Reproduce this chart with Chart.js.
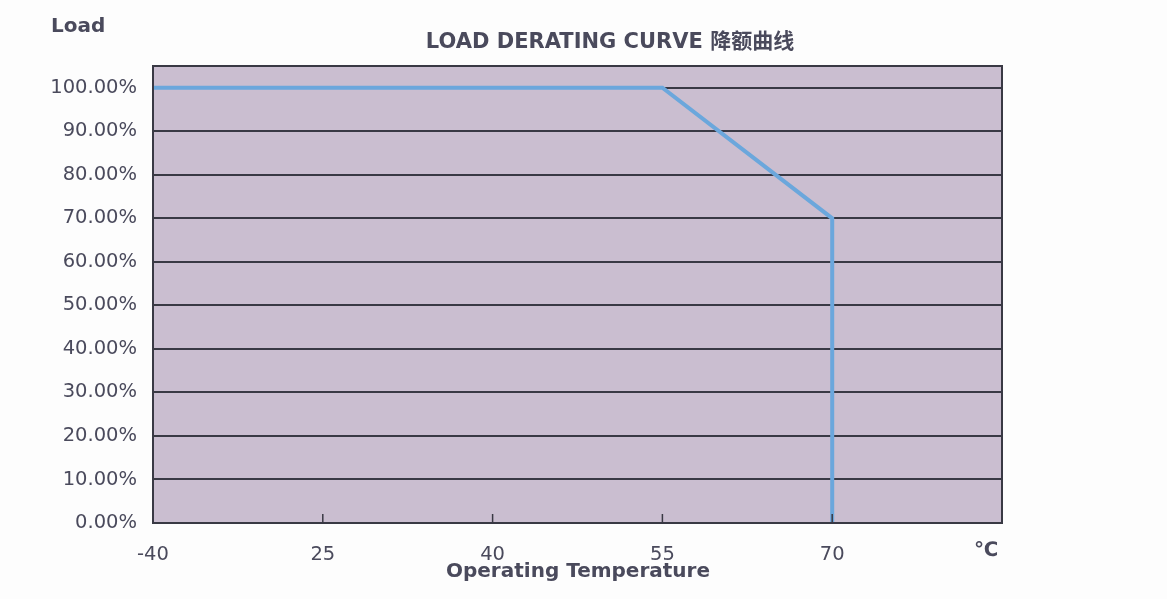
<!DOCTYPE html>
<html>
<head>
<meta charset="utf-8">
<script src="https://cdn.jsdelivr.net/npm/chart.js@4.4.1/dist/chart.umd.min.js"></script>
<style>
  html, body { margin: 0; padding: 0; background: #fdfdfd; }
  #wrap { width: 1167px; height: 599px; }
</style>
</head>
<body>
<div id="wrap"><canvas id="myChart" width="1167" height="599"></canvas></div>
<script>
'use strict'
// categories on the x axis (not linear, evenly spaced like the original)
let tempLabels = ['-40', '25', '40', '55', '70', ''];
let unitLabel = '℃';
// derating curve: temperature label -> load %
let curveTemps = ['-40', '55', '70', '70'];
let curveLoads = [100, 100, 70, 0];
let loadTicks = [0, 10, 20, 30, 40, 50, 60, 70, 80, 90, 100];

let chartTitle = 'LOAD DERATING CURVE 降额曲线';
let yTitle = 'Load';
let xTitle = 'Operating Temperature';

let textColor = '#4a4a5c';
let gridColor = '#393944';
let fontFam = '"DejaVu Sans", "Noto Sans CJK SC", sans-serif';

let points = [];
for (let i = 0; i < curveTemps.length; i++) {
    points.push({ x: curveTemps[i], y: curveLoads[i] });
}

// plot background, frame, inner tick marks and the free texts
let plotDeco = {
    id: 'plotDeco',
    beforeDraw(chart) {
        let c = chart.ctx, a = chart.chartArea;
        c.save();
        c.fillStyle = '#cabed0';
        c.fillRect(a.left, a.top, a.right - a.left, a.bottom - a.top);
        c.restore();
    },
    afterDatasetsDraw(chart) {
        let c = chart.ctx, a = chart.chartArea;
        let xs = chart.scales.x;
        c.save();
        c.strokeStyle = gridColor;
        c.lineWidth = 2;
        c.strokeRect(a.left, a.top, a.right - a.left, a.bottom - a.top);
        // small tick marks pointing up into the plot
        c.lineWidth = 1.5;
        for (let i = 1; i < tempLabels.length - 1; i++) {
            let px = xs.getPixelForTick(i);
            c.beginPath();
            c.moveTo(px, a.bottom);
            c.lineTo(px, a.bottom - 9);
            c.stroke();
        }
        c.fillStyle = textColor;
        c.textBaseline = 'middle';
        c.textAlign = 'center';
        c.font = 'bold 20px ' + fontFam;
        c.fillText(unitLabel, a.right - 16, 551);
        c.textAlign = 'left';
        c.font = 'bold 20px ' + fontFam;
        c.fillText(yTitle, 51, 27);
        c.textAlign = 'center';
        c.font = 'bold 21px ' + fontFam;
        c.fillText(chartTitle, 610, 43);
        c.font = 'bold 20px ' + fontFam;
        c.fillText(xTitle, 578, 572);
        c.restore();
    }
};

let ctx = document.getElementById('myChart').getContext('2d');
let chart = new Chart(ctx, {
    type: 'line',
    data: {
        labels: tempLabels,
        datasets: [{
            label: 'load',
            data: points,
            borderColor: '#6ba7dc',
            borderWidth: 4,
            pointRadius: 0,
            fill: false,
            tension: 0
        }]
    },
    options: {
        responsive: false,
        animation: false,
        layout: { padding: { top: 66, right: 165, left: 0, bottom: 0 } },
        plugins: {
            legend: { display: false },
            tooltip: { enabled: false }
        },
        scales: {
            x: {
                type: 'category',
                offset: false,
                grid: { display: false },
                border: { display: false },
                ticks: {
                    color: textColor,
                    font: { family: fontFam, size: 19.5 },
                    padding: 12,
                    maxRotation: 0,
                    autoSkip: false
                },
                afterFit(scale) { scale.height = 76; }
            },
            y: {
                min: 0,
                max: 105,
                grid: { color: gridColor, lineWidth: 2, drawTicks: false },
                border: { display: false },
                ticks: {
                    color: textColor,
                    font: { family: fontFam, size: 19.5 },
                    padding: 16,
                    callback: (v) => v.toFixed(2) + '%'
                },
                afterBuildTicks(scale) {
                    scale.ticks = loadTicks.map(v => ({ value: v }));
                },
                afterFit(scale) { scale.width = 153; }
            }
        }
    },
    plugins: [plotDeco]
});
</script>
</body>
</html>
